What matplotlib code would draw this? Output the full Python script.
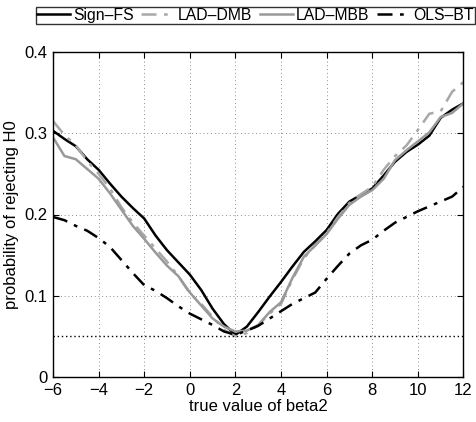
import matplotlib
matplotlib.use("Agg")
import matplotlib.pyplot as plt
import numpy as np

plt.rcParams['font.family'] = ['Liberation Sans', 'DejaVu Sans']
plt.rcParams['axes.unicode_minus'] = True

beta2 = [-6, -5.5, -5, -4.5, -4, -3.5, -3, -2.5, -2, -1.5, -1, -0.5, 0, 0.5, 1, 1.5, 2, 2.5,
         3, 3.5, 4, 4.5, 5, 5.5, 6, 6.5, 7, 7.5, 8, 8.5, 9, 9.5, 10, 10.5, 11, 11.5, 12]

sign_fs = [0.303, 0.293, 0.284, 0.268, 0.255, 0.238, 0.222, 0.208, 0.195, 0.174, 0.156, 0.141,
           0.126, 0.107, 0.084, 0.065, 0.052, 0.062, 0.080, 0.099, 0.117, 0.136, 0.154, 0.167,
           0.181, 0.201, 0.216, 0.224, 0.232, 0.248, 0.265, 0.277, 0.286, 0.297, 0.319, 0.329, 0.337]

lad_dmb = [0.315, 0.298, 0.285, 0.266, 0.250, 0.232, 0.209, 0.190, 0.174, 0.158, 0.142, 0.124,
           0.103, 0.090, 0.074, 0.058, 0.050, 0.054, 0.064, 0.078, 0.090, 0.120, 0.146, 0.162,
           0.177, 0.197, 0.214, 0.225, 0.234, 0.255, 0.272, 0.285, 0.304, 0.324, 0.327, 0.351, 0.363]

lad_mbb = [0.295, 0.272, 0.268, 0.256, 0.244, 0.226, 0.206, 0.186, 0.170, 0.153, 0.137, 0.124,
           0.104, 0.088, 0.072, 0.062, 0.056, 0.057, 0.064, 0.080, 0.092, 0.122, 0.148, 0.162,
           0.176, 0.195, 0.212, 0.222, 0.230, 0.244, 0.267, 0.279, 0.290, 0.301, 0.320, 0.325, 0.337]

ols_bt = [0.197, 0.193, 0.186, 0.180, 0.171, 0.160, 0.144, 0.128, 0.113, 0.106, 0.097, 0.087,
          0.078, 0.071, 0.064, 0.056, 0.052, 0.057, 0.063, 0.072, 0.081, 0.090, 0.097, 0.104,
          0.121, 0.137, 0.152, 0.162, 0.169, 0.180, 0.190, 0.197, 0.204, 0.210, 0.216, 0.222, 0.234]

nominal = 0.05
labels = ['Sign–FS', 'LAD–DMB', 'LAD–MBB', 'OLS–BT']
xticks = [-6, -4, -2, 0, 2, 4, 6, 8, 10, 12]
yticks = [0, 0.1, 0.2, 0.3, 0.4]

W, H = 477, 422
fig = plt.figure(figsize=(W / 100, H / 100), dpi=100)
ax = fig.add_axes([53 / W, 1 - 377 / H, (463.5 - 53) / W, (377 - 52) / H])

dashdot = (0, (6, 3, 1.5, 3))
ax.plot(beta2, sign_fs, color='black', lw=1.8, ls='-', label=labels[0])
ax.plot(beta2, lad_dmb, color='#a8a8a8', lw=1.8, ls=dashdot, label=labels[1])
ax.plot(beta2, lad_mbb, color='#999999', lw=1.8, ls='-', label=labels[2])
ax.plot(beta2, ols_bt, color='black', lw=1.8, ls=dashdot, label=labels[3])
ax.axhline(nominal, color='black', lw=1.0, ls=(0, (1, 2)))

ax.set_xlim(-6, 12)
ax.set_ylim(0, 0.4)
ax.set_xticks(xticks)
ax.set_yticks(yticks)
ax.set_xticklabels([f'{t}' if t >= 0 else f'−{-t}' for t in xticks])
ax.set_yticklabels(['0', '0.1', '0.2', '0.3', '0.4'])
ax.grid(True, color='#666666', lw=0.6, ls=(0, (1, 3.5)))
ax.tick_params(direction='in', length=4, width=0.8, top=True, right=True, labelsize=12, pad=4)
for s in ax.spines.values():
    s.set_linewidth(1.0)

ax.set_xlabel('true value of beta2', fontsize=12, labelpad=1)
ax.set_ylabel('probability of rejecting H0', fontsize=12, labelpad=4)

leg = fig.legend(loc='lower left', bbox_to_anchor=(36 / W, 1 - 23.5 / H), ncol=4,
                 fontsize=11.3, frameon=True, fancybox=False, edgecolor='black',
                 handlelength=2.1, handletextpad=0.2, columnspacing=0.5,
                 borderpad=0.05, borderaxespad=0)
leg.get_frame().set_linewidth(1.0)

fig.savefig('out.png', dpi=100)
